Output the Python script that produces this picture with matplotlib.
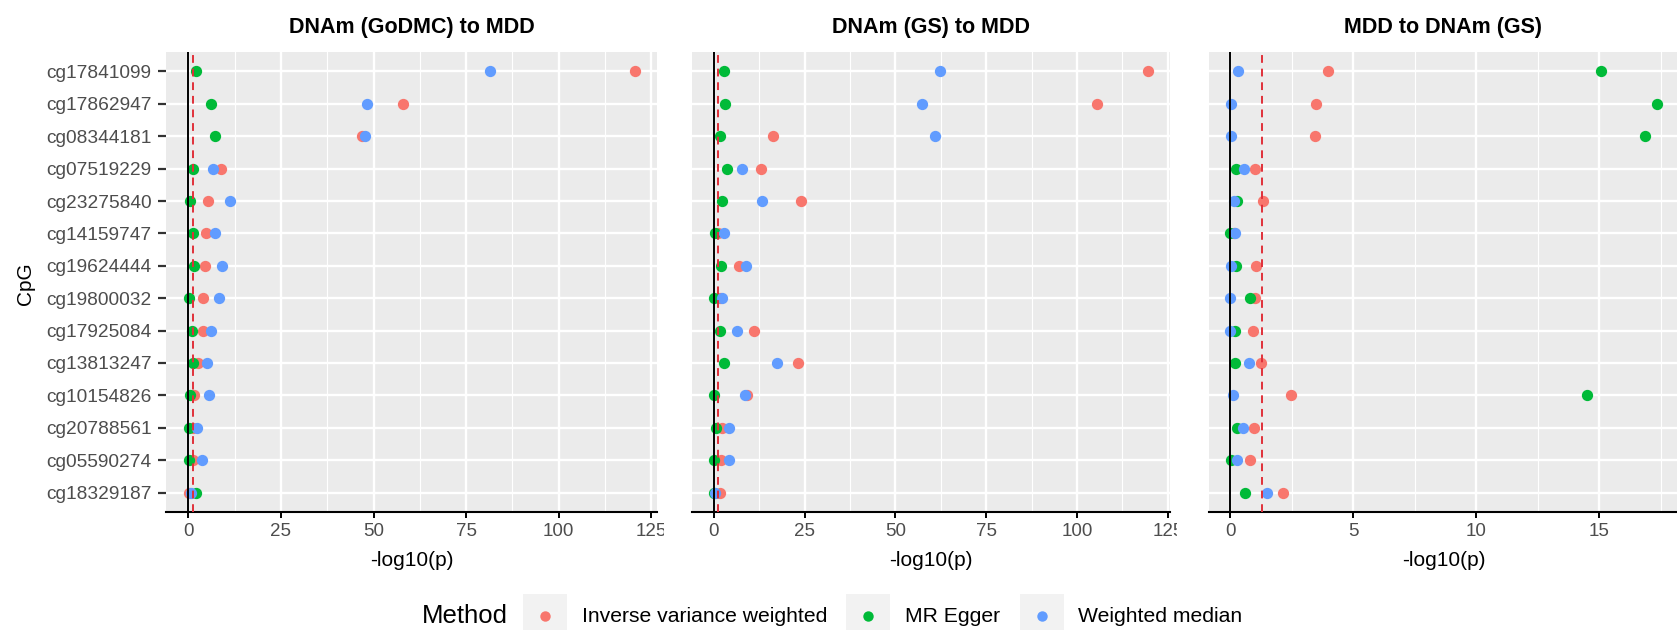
import matplotlib
matplotlib.use('Agg')
import matplotlib.pyplot as plt
from matplotlib.patches import Rectangle
from matplotlib.lines import Line2D
from matplotlib.ticker import MultipleLocator
from matplotlib.transforms import Bbox
import numpy as np

plt.rcParams['font.family'] = ['Liberation Sans', 'DejaVu Sans']

# ---------------- data ----------------
cpgs = ['cg17841099', 'cg17862947', 'cg08344181', 'cg07519229', 'cg23275840',
        'cg14159747', 'cg19624444', 'cg19800032', 'cg17925084', 'cg13813247',
        'cg10154826', 'cg20788561', 'cg05590274', 'cg18329187']

methods = ['Inverse variance weighted', 'MR Egger', 'Weighted median']
method_colors = ['#F8766D', '#00BA38', '#619CFF']

panel_titles = ['DNAm (GoDMC) to MDD', 'DNAm (GS) to MDD', 'MDD to DNAm (GS)']

# -log10(p), panel 1: DNAm (GoDMC) -> MDD
godmc_ivw = [120.5, 57.9, 47.0, 8.7, 5.4, 4.9, 4.6, 3.9, 3.9, 2.5, 1.6, 1.2, 1.2, 0.05]
godmc_egger = [2.1, 6.1, 7.2, 1.3, 0.4, 1.3, 1.5, 0.2, 0.9, 1.3, 0.4, 0.2, 0.2, 2.0]
godmc_wm = [81.5, 48.2, 47.8, 6.6, 11.3, 7.3, 9.0, 8.2, 6.2, 5.0, 5.5, 2.3, 3.6, 0.6]

# panel 2: DNAm (GS) -> MDD
gs_ivw = [119.6, 105.4, 16.4, 13.1, 23.9, 1.2, 7.0, 1.7, 11.0, 23.1, 9.2, 2.4, 1.9, 1.8]
gs_egger = [2.8, 3.2, 1.7, 3.7, 2.3, 0.3, 2.1, 0.1, 1.7, 2.9, 0.05, 0.7, 0.05, 0.2]
gs_wm = [62.2, 57.2, 61.0, 7.8, 13.3, 2.9, 8.9, 2.4, 6.5, 17.3, 8.5, 4.1, 4.3, 0.3]

# panel 3: MDD -> DNAm (GS)
rev_ivw = [3.96, 3.5, 3.44, 1.02, 1.31, 0.15, 1.04, 1.02, 0.91, 1.23, 2.47, 0.95, 0.8, 2.16]
rev_egger = [15.07, 17.33, 16.86, 0.24, 0.26, 0.0, 0.24, 0.8, 0.18, 0.2, 14.51, 0.29, 0.01, 0.6]
rev_wm = [0.3, 0.01, 0.04, 0.57, 0.13, 0.2, 0.04, 0.0, 0.0, 0.75, 0.1, 0.53, 0.26, 1.49]

panel_data = [(godmc_ivw, godmc_egger, godmc_wm),
              (gs_ivw, gs_egger, gs_wm),
              (rev_ivw, rev_egger, rev_wm)]
panel_major = [25, 25, 5]
threshold = -np.log10(0.05)

# ---------------- layout (pixels) ----------------
W, H = 1677, 630
fig = plt.figure(figsize=(W / 100, H / 100), dpi=100)
panel_lr = [(166, 657), (692, 1170), (1209, 1678)]
top, bottom = 52, 512


def fx(x):
    return x / W


def fy(y):
    return 1 - y / H


n = len(cpgs)
ypos = np.arange(n)[::-1]

for i, (title, data, major) in enumerate(zip(panel_titles, panel_data, panel_major)):
    l, r = panel_lr[i]
    ax = fig.add_axes([fx(l), fy(bottom), (r - l) / W, (bottom - top) / H])
    ax.set_facecolor('#EBEBEB')
    for vals, col in zip(data, method_colors):
        ax.scatter(vals, ypos, s=66, color=col, linewidths=0, zorder=3)
    ax.axvline(0, color='black', lw=1.4, zorder=4)
    ax.axvline(threshold, color='#E0303A', lw=1.4, ls=(0, (4, 3)), zorder=4)

    allv = np.concatenate([np.asarray(d, float) for d in data] + [np.array([0.0, threshold])])
    lo, hi = allv.min(), allv.max()
    rng = hi - lo
    ax.set_xlim(lo - 0.05 * rng, hi + 0.05 * rng)
    ax.set_ylim(-0.6, n - 0.4)

    ax.xaxis.set_major_locator(MultipleLocator(major))
    ax.xaxis.set_minor_locator(MultipleLocator(major / 2))
    ax.set_yticks(ypos)
    ax.set_yticklabels(cpgs if i == 0 else [''] * n)
    ax.set_axisbelow(True)
    ax.grid(which='major', color='white', lw=1.7)
    ax.grid(which='minor', axis='x', color='white', lw=0.8)

    for s in ['top', 'right', 'left']:
        ax.spines[s].set_visible(False)
    ax.spines['bottom'].set_color('black')
    ax.spines['bottom'].set_linewidth(1.5)

    ax.tick_params(axis='x', which='major', length=4.5, width=1.4, color='black',
                   labelsize=13.5, labelcolor='#4D4D4D', pad=3.5)
    ax.tick_params(axis='x', which='minor', length=0)
    if i == 0:
        ax.tick_params(axis='y', length=6, width=1.6, color='#333333',
                       labelsize=13.8, labelcolor='#4D4D4D', pad=4.5)
    else:
        ax.tick_params(axis='y', length=0, labelleft=False)

    # clip tick labels near the panel edge (the last label is partly hidden)
    clipbox = Bbox([[l - 40, 0], [r + 7, H]])
    for lab in ax.get_xticklabels():
        lab.set_clip_box(clipbox)
        lab.set_clip_on(True)

    cx = (l + r) / 2
    fig.text(fx(cx), fy(27), title, ha='center', va='center', fontsize=15.5,
             fontweight='bold', color='black')
    fig.text(fx(cx), fy(561), '-log10(p)', ha='center', va='center', fontsize=15,
             color='black')

fig.text(fx(25), fy(284), 'CpG', rotation=90, ha='center', va='center',
         fontsize=15, color='black')

# ---------------- legend ----------------
fig.canvas.draw()
renderer = fig.canvas.get_renderer()
ly = 616
fig.text(fx(508), fy(ly), 'Method', ha='right', va='center', fontsize=18.5, color='black')
x = 523
box = 44
for lab, col in zip(methods, method_colors):
    fig.add_artist(Rectangle((fx(x), fy(ly + box / 2)), box / W, box / H,
                             transform=fig.transFigure, facecolor='#F2F2F2',
                             edgecolor='none'))
    fig.add_artist(Line2D([fx(x + box / 2)], [fy(ly)], marker='o', markersize=7.5,
                          color=col, markeredgewidth=0, transform=fig.transFigure))
    t = fig.text(fx(x + box + 15), fy(ly), lab, ha='left', va='center',
                 fontsize=15.2, color='black')
    wpx = t.get_window_extent(renderer).width
    x = x + box + 15 + wpx + 19

fig.savefig('out.png', dpi=100)
